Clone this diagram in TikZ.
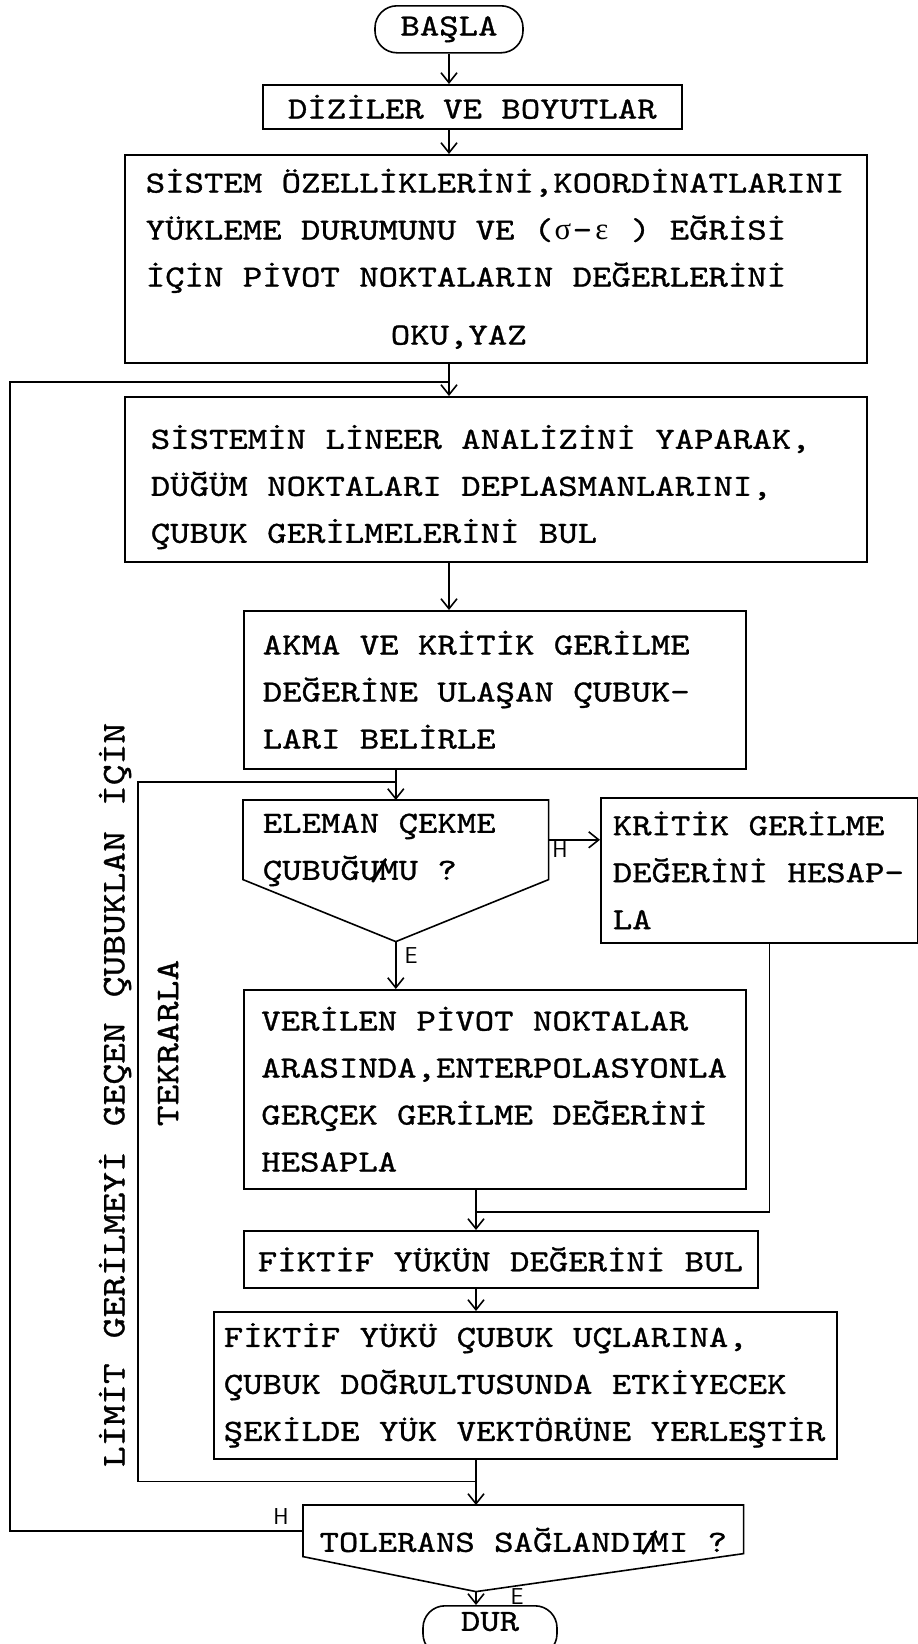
\documentclass[tikz,border=0pt]{standalone}
\usepackage{fontspec}
\usetikzlibrary{arrows.meta}
\newfontfamily\daktilo{lmmono10-regular.otf}[FakeStretch=1.2, WordSpace=1.2, FakeBold=1]
\newfontfamily\grk{Liberation Serif}
\newcommand\harf[1]{\makebox[0.63em]{#1}}
\newcommand\kesik{\makebox[0pt]{/}}

\tikzset{
  kutu/.style={draw, line width=1.6pt, anchor=north west, align=left, inner ysep=0pt,
    font=\daktilo\fontsize{30.8pt}{47pt}\selectfont,
    execute at begin node={\spaceskip=0.63em\relax\xspaceskip=0.63em\relax}},
  yanyazi/.style={font=\daktilo\fontsize{33pt}{40pt}\selectfont, rotate=90, inner sep=0pt},
  harfyazi/.style={font=\sffamily\fontsize{23pt}{23pt}\selectfont, inner sep=0pt},
  hat/.style={line width=1.6pt},
  ok/.style={line width=1.6pt, ->},
}

\begin{document}
\begin{tikzpicture}[x=1pt, y=-1pt, >={Straight Barb[length=10pt,width=16pt]}]
\useasboundingbox (0,0) rectangle (918,1644);
\clip (0,0) rectangle (918,1644);

% Boxes.
\node[kutu, anchor=north, rounded corners=22pt, minimum width=148pt, minimum height=47pt, align=center] (basla) at (449,5) {BAŞLA};
\node[kutu, minimum width=419pt, minimum height=44pt, align=center] (dizi) at (262,84) {DİZİLER VE BOYUTLAR};
\node[kutu, minimum width=742pt, minimum height=208pt, text width=700pt, inner xsep=21pt] (sistem) at (124,154)
  {SİSTEM ÖZELLİKLERİNİ,KOORDİNATLARINI\\
   YÜKLEME DURUMUNU VE (\harf{\grk σ}-\harf{\grk ε} ) EĞRİSİ\\
   İÇİN PİVOT NOKTALARIN DEĞERLERİNİ\\[11pt]
   \hspace*{245pt}OKU,YAZ};
\node[kutu, minimum width=742pt, minimum height=165pt, text width=690pt, inner xsep=26pt,
  text height=52pt, text depth=113pt] (lineer) at (124,396)
  {SİSTEMİN LİNEER ANALİZİNİ YAPARAK,\\
   DÜĞÜM NOKTALARI DEPLASMANLARINI,\\
   ÇUBUK GERİLMELERİNİ BUL};
\node[kutu, minimum width=502pt, minimum height=158pt, text width=464pt, inner xsep=19pt] (akma) at (243,610)
  {AKMA VE KRİTİK GERİLME\\
   DEĞERİNE ULAŞAN ÇUBUK-\\
   LARI BELİRLE};
\node[kutu, draw=none, minimum width=304pt, minimum height=78pt, text width=266pt, inner xsep=19pt,
  text height=32pt, text depth=46pt] (eleman) at (243,800)
  {ELEMAN ÇEKME\\
   ÇUBUĞU\kesik MU ?};
\node[kutu, minimum width=317pt, minimum height=145pt, text width=293pt, inner xsep=12pt] (kritik) at (600,797)
  {KRİTİK GERİLME\\
   DEĞERİNİ HESAP-\\
   LA};
\node[kutu, minimum width=502pt, minimum height=199pt, text width=467pt, inner xsep=17.5pt] (verilen) at (243,989)
  {VERİLEN PİVOT NOKTALAR\\
   ARASINDA,ENTERPOLASYONLA\\
   GERÇEK GERİLME DEĞERİNİ\\
   HESAPLA};
\node[kutu, minimum width=514pt, minimum height=57pt, text width=486pt, inner xsep=14pt] (fiktif1) at (243,1230)
  {FİKTİF YÜKÜN DEĞERİNİ BUL};
\node[kutu, minimum width=623pt, minimum height=147pt, text width=603pt, inner xsep=10pt] (fiktif2) at (213,1311)
  {FİKTİF YÜKÜ ÇUBUK UÇLARINA,\\
   ÇUBUK DOĞRULTUSUNDA ETKİYECEK\\
   ŞEKİLDE YÜK VEKTÖRÜNE YERLEŞTİR};
\node[kutu, draw=none, minimum width=439pt, minimum height=50pt, text height=46pt, text depth=4pt] (tol) at (303,1505)
  {TOLERANS SAĞLANDI\kesik MI ?};
\node[kutu, anchor=north, rounded corners=22pt, minimum width=134pt, minimum height=50pt,
  text height=20pt, text depth=20pt, align=center] (dur) at (490,1605) {DUR};

% Axis and loop columns.
\coordinate (eksen) at (476,0);
\coordinate (icdongu) at (138,0);
\coordinate (disdongu) at (10,0);
\coordinate (eleman-uc) at ([yshift=-62pt]eleman.south);
\coordinate (tol-uc) at ([yshift=-35pt]eksen |- tol.south);

% Decision shapes.
\draw[hat] (eleman.north west) -- (eleman.north east) -- (eleman.south east) -- (eleman-uc) -- (eleman.south west) -- cycle;
\draw[hat] (tol.north west) -- (tol.north east) -- ([yshift=3pt]tol.south east) -- (tol-uc) -- (tol.south west) -- cycle;

% Labels.
\node[harfyazi] (h1) at (560,850) {H};
\node[harfyazi] (e1) at (411,956) {E};
\node[harfyazi] (h2) at (281,1516) {H};
\node[harfyazi] (e2) at (517,1597) {E};
\node[yanyazi] (limit) at (115,1095) {LİMİT GERİLMEYİ GEÇEN ÇUBUKLAN İÇİN};
\node[yanyazi] (tekrar) at (168,1043) {TEKRARLA};

% Flow.
\draw[ok] (basla.south) -- (basla.south |- dizi.north);
\draw[ok] (basla.south |- dizi.south) -- (basla.south |- sistem.north);
\draw[ok] (basla.south |- sistem.south) -- (basla.south |- lineer.north);
\draw[ok] (basla.south |- lineer.south) -- (basla.south |- akma.north);
\draw[ok] (eleman.north |- akma.south) -- (eleman.north);
\draw[ok] (eleman.east) -- (eleman.east -| kritik.west);
\draw[ok] (eleman-uc) -- (eleman-uc |- verilen.north);
\draw[ok] (eksen |- verilen.south) -- (eksen |- fiktif1.north);
\draw[hat] ([xshift=10pt]kritik.south) |- ([yshift=18pt]eksen |- fiktif1.north);
\draw[ok] (eksen |- fiktif1.south) -- (eksen |- fiktif2.north);
\draw[ok] (eksen |- fiktif2.south) -- (eksen |- tol.north);
\draw[ok] (tol-uc) -- (tol-uc |- dur.north);

% Loops.
\draw[hat] ([yshift=-22pt]eksen |- fiktif2.south) -| ([yshift=18pt]icdongu |- eleman.north) -- ([yshift=18pt]eleman.north);
\draw[hat] (tol.west) -| ([yshift=14pt]disdongu |- lineer.north) -- ([yshift=14pt]basla.south |- lineer.north);

\end{tikzpicture}
\end{document}
